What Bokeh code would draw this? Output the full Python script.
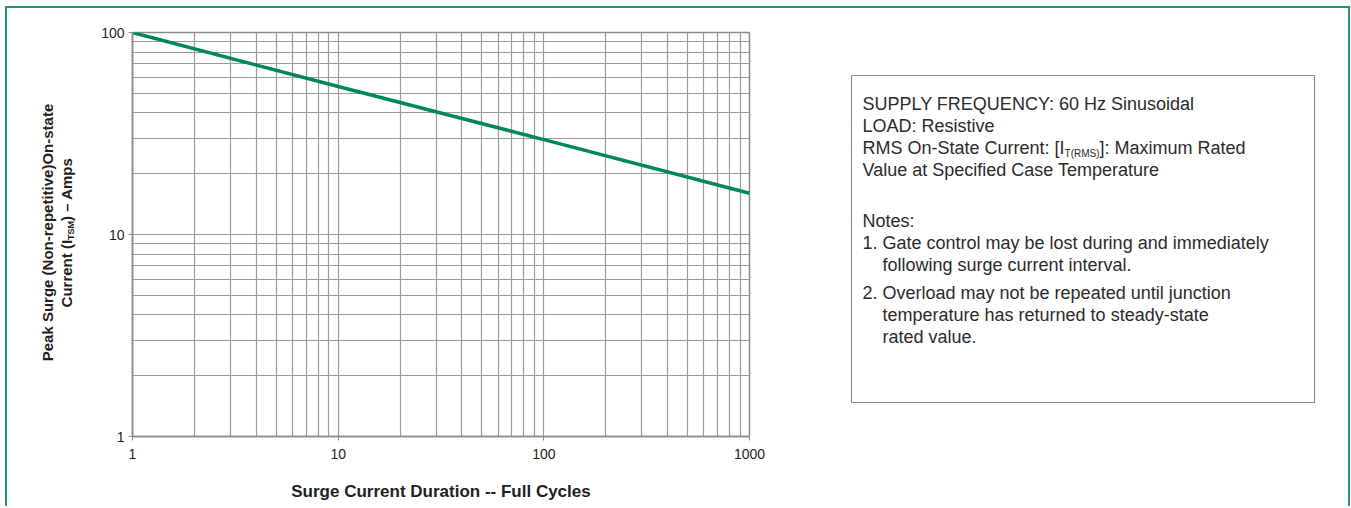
import math
from bokeh.plotting import figure
from bokeh.layouts import row
from bokeh.models import Range1d, FixedTicker, NumeralTickFormatter
from bokeh.core.properties import value
from bokeh.embed import file_html
from bokeh.resources import INLINE

# ---------------- data ----------------
cycles = [1, 10, 100, 1000]
peak_amps = [100, 54, 29.5, 16]

x_major = [1, 10, 100, 1000]
x_minor = [2, 3, 4, 5, 6, 7, 8, 9, 20, 30, 40, 50, 60, 70, 80, 90,
           200, 300, 400, 500, 600, 700, 800, 900]
y_major = [1, 10, 100]
y_minor = [2, 3, 4, 5, 6, 7, 8, 9, 20, 30, 40, 50, 60, 70, 80, 90]

x_title = "Surge Current Duration -- Full Cycles"
y_title_1 = "Peak Surge (Non-repetitive)On-state"
y_title_2a = "Current (I"
y_title_sub = "TSM"
y_title_2b = ") – Amps"

info_lines = [
    "SUPPLY FREQUENCY: 60 Hz Sinusoidal",
    "LOAD: Resistive",
    None,  # RMS line with subscript, drawn in parts
    "Value at Specified Case Temperature",
    "Notes:",
    "1. Gate control may be lost during and immediately",
    "following surge current interval.",
    "2. Overload may not be repeated until junction",
    "temperature has returned to steady-state",
    "rated value.",
]
rms_a = "RMS On-State Current: [I"
rms_sub = "T(RMS)"
rms_b = "]: Maximum Rated"

# ---------------- styles ----------------
GREEN_LINE = "#00875A"
GREEN_BORDER = "#1F9A64"
GRID = "#9B9B9B"
AXIS = "#8C8C8C"
TEXT = "#231F20"
FONT = "Liberation Sans"

H = 498
FRAME_TOP, FRAME_BOTTOM = 32, 436   # page y of the shared plot frame

# ---------------- y-axis title panel ----------------
py = figure(width=91, height=H, x_range=Range1d(7, 98),
            y_range=Range1d(FRAME_BOTTOM, FRAME_TOP),
            toolbar_location=None, output_backend="svg", min_border=0,
            x_axis_location=None, y_axis_location=None, outline_line_color=None)
py.grid.visible = False
ylab_kw = dict(angle=math.pi / 2, text_font=value(FONT), text_font_style="bold",
               text_color=TEXT, text_baseline="middle")
py.text(x=[47], y=[232], text=[y_title_1], text_align="center",
        text_font_size="15px", **ylab_kw)
fs = 15.0
w1 = 4.5 * fs
wsub = 2.111 * 9
w3 = 4.223 * fs
start = 232 + (w1 + wsub + w3) / 2
py.text(x=[66], y=[start], text=[y_title_2a], text_align="left",
        text_font_size="15px", **ylab_kw)
py.text(x=[70], y=[start - w1], text=[y_title_sub], text_align="left",
        text_font_size="9px", **ylab_kw)
py.text(x=[66], y=[start - w1 - wsub], text=[y_title_2b], text_align="left",
        text_font_size="15px", **ylab_kw)

# ---------------- main log-log chart ----------------
p = figure(width=752, height=H, x_axis_type="log", y_axis_type="log",
           x_range=Range1d(1, 1000), y_range=Range1d(1, 100),
           toolbar_location=None, output_backend="svg",
           min_border_left=33, min_border_right=101,
           min_border_top=24, min_border_bottom=70,
           outline_line_color=AXIS, outline_line_width=1.5)

xt = FixedTicker(ticks=x_major, minor_ticks=x_minor)
yt = FixedTicker(ticks=y_major, minor_ticks=y_minor)
p.xaxis.ticker = xt
p.yaxis.ticker = yt
p.xgrid.ticker = xt
p.ygrid.ticker = yt
for g in (p.xgrid[0], p.ygrid[0]):
    g.grid_line_color = GRID
    g.grid_line_width = 1.2
    g.minor_grid_line_color = GRID
    g.minor_grid_line_width = 1.2

for ax in (p.xaxis[0], p.yaxis[0]):
    ax.formatter = NumeralTickFormatter(format="0")
    ax.axis_line_color = AXIS
    ax.axis_line_width = 1.5
    ax.major_tick_line_color = AXIS
    ax.major_tick_out = 4
    ax.major_tick_in = 0
    ax.minor_tick_out = 0
    ax.minor_tick_in = 0
    ax.major_label_text_font = FONT
    ax.major_label_text_font_size = "14px"
    ax.major_label_text_color = TEXT

p.xaxis.major_label_standoff = 8
p.yaxis.major_label_standoff = 4
p.xaxis.axis_label = x_title
p.xaxis.axis_label_text_font = FONT
p.xaxis.axis_label_text_font_style = "bold"
p.xaxis.axis_label_text_font_size = "17px"
p.xaxis.axis_label_text_color = TEXT
p.xaxis.axis_label_standoff = 20

p.line(cycles, peak_amps, line_color=GREEN_LINE, line_width=3.5)

# ---------------- info box panel ----------------
pt = figure(width=498, height=H, x_range=Range1d(850, 1348),
            y_range=Range1d(FRAME_BOTTOM, FRAME_TOP),
            toolbar_location=None, output_backend="svg", min_border=0,
            x_axis_location=None, y_axis_location=None, outline_line_color=None)
pt.grid.visible = False
pt.quad(left=[851], right=[1314], top=[75], bottom=[402], fill_color=None,
        line_color="#8C8C8C", line_width=1.2)

tx_kw = dict(text_font=value(FONT), text_color="#2B2B2B", text_align="left",
             text_baseline="alphabetic")
baselines = [103, 125, 147, 169, 220, 242, 264, 292, 314, 336]
indents = [862, 862, 862, 862, 862, 862, 882, 862, 882, 882]
xs, ys, ts = [], [], []
for t, yb, xi in zip(info_lines, baselines, indents):
    if t is not None:
        xs.append(xi)
        ys.append(yb)
        ts.append(t)
pt.text(x=xs, y=ys, text=ts, text_font_size="18px", **tx_kw)
rms_y = baselines[2]
wa = 11.226 * 18
wsub2 = 3.499 * 10
pt.text(x=[862], y=[rms_y], text=[rms_a], text_font_size="18px", **tx_kw)
pt.text(x=[862 + wa], y=[rms_y + 6], text=[rms_sub], text_font_size="10px", **tx_kw)
pt.text(x=[862 + wa + wsub2], y=[rms_y], text=[rms_b], text_font_size="18px", **tx_kw)

border = f"2px solid {GREEN_BORDER}"
layout = row(py, p, pt, spacing=0,
             styles={"border-left": border, "border-top": border,
                     "border-right": border, "margin-left": "5px",
                     "margin-top": "6px"})

open("out.html", "w").write(file_html(layout, INLINE))
